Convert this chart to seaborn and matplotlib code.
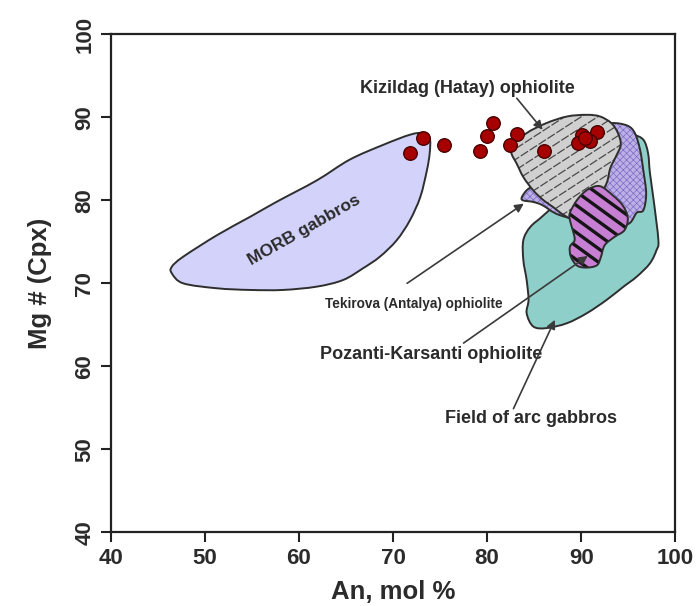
import numpy as np
import pandas as pd
import matplotlib
matplotlib.use("Agg")
import matplotlib.pyplot as plt
from matplotlib.patches import PathPatch
from matplotlib.path import Path
import seaborn as sns

# ---------------- data ----------------
# sample points: An (mol %) vs Mg# (Cpx)
pts_an = [73.2, 71.8, 75.4, 80.6, 80.0, 79.2, 83.2, 82.4, 86.0,
          90.1, 91.7, 90.9, 89.7, 90.4]
pts_mg = [87.5, 85.7, 86.7, 89.3, 87.7, 86.0, 88.0, 86.7, 85.9,
          87.9, 88.2, 87.1, 86.9, 87.5]

# MORB gabbros field (outline vertices)
morb_x = [46.5, 47.7, 51.3, 54.8, 57.6, 61.9, 65.4, 69.0, 71.8, 73.2, 73.9,
          73.9, 73.6, 72.9, 71.8, 70.4, 68.6, 66.8, 64.7, 61.9, 58.3, 54.8,
          51.3, 47.7, 46.5]
morb_y = [72.0, 73.2, 75.8, 78.0, 79.8, 82.4, 84.9, 86.7, 87.9, 88.1, 87.5,
          85.7, 83.6, 80.4, 77.6, 75.2, 73.2, 71.8, 70.4, 69.6, 69.2, 69.2,
          69.4, 70.0, 71.2]

# Field of arc gabbros
arc_x = [95.5, 96.6, 97.1, 97.3, 97.7, 98.2, 98.0, 97.3, 95.9, 94.5, 92.7,
         90.6, 88.5, 86.3, 84.9, 84.2, 84.4, 84.2, 83.85, 83.85, 84.6, 86.0,
         88.8, 92.0, 94.1]
arc_y = [87.9, 87.3, 85.7, 83.3, 80.0, 75.2, 74.0, 72.4, 70.8, 69.6, 68.0,
         66.4, 65.2, 64.6, 64.8, 66.4, 68.0, 70.4, 72.8, 75.2, 76.8, 78.2,
         81.2, 86.1, 87.9]

# Tekirova (Antalya) ophiolite
tek_x = [83.7, 84.2, 84.9, 85.6, 87.75, 90.9, 92.5, 93.3, 94.9, 95.7, 96.25,
         96.6, 96.9, 96.6, 95.9, 95.2, 94.1, 92.0, 87.75, 85.9, 84.9, 83.8]
tek_y = [80.4, 81.2, 81.7, 81.6, 83.1, 86.1, 88.7, 89.3, 89.0, 88.1, 86.1,
         83.6, 80.8, 78.8, 78.5, 77.3, 76.9, 77.0, 78.2, 79.4, 79.8, 80.0]

# Kizildag (Hatay) ophiolite
kiz_x = [82.6, 84.2, 86.3, 88.5, 90.6, 92.0, 93.2, 93.9, 94.2, 93.7, 93.1,
         92.8, 92.5, 92.0, 89.9, 89.3, 88.8, 87.9, 87.0, 86.0, 84.9, 83.85,
         83.15, 82.6]
kiz_y = [86.5, 88.1, 89.3, 90.1, 90.3, 90.1, 89.3, 88.1, 86.7, 85.3, 83.9,
         82.4, 81.6, 80.6, 78.2, 77.4, 77.8, 78.4, 79.2, 80.0, 81.2, 82.8,
         84.4, 85.6]

# Pozanti-Karsanti ophiolite
poz_x = [88.8, 89.6, 90.7, 92.0, 93.35, 94.4, 94.95, 94.6, 93.55, 92.5, 92.1,
         91.7, 90.7, 89.6, 88.9, 88.8, 89.3, 89.1, 88.8]
poz_y = [78.5, 80.1, 81.3, 81.7, 80.6, 79.4, 77.9, 76.4, 75.6, 74.6, 73.2,
         72.2, 71.9, 72.1, 73.2, 74.4, 75.2, 76.4, 77.6]

x_ticks = [40, 50, 60, 70, 80, 90, 100]
y_ticks = [40, 50, 60, 70, 80, 90, 100]

# ---------------- style ----------------
sns.set_theme(style="ticks")
plt.rcParams["font.family"] = ["Liberation Sans", "DejaVu Sans"]
plt.rcParams["hatch.linewidth"] = 0.5

TXT = "#2b2b2b"
EDGE = "#2e2e2e"

fig = plt.figure(figsize=(6.97, 6.06), dpi=100)
ax = fig.add_axes([0.1588, 0.1216, 0.8101, 0.8218])
ax.set_xlim(40, 100)
ax.set_ylim(40, 100)


def smooth_path(xs, ys):
    """Closed Catmull-Rom outline through the vertices, as cubic Beziers."""
    P = np.column_stack([xs, ys])
    n = len(P)
    verts = [P[0]]
    codes = [Path.MOVETO]
    for i in range(n):
        p0, p1, p2, p3 = P[i - 1], P[i], P[(i + 1) % n], P[(i + 2) % n]
        c1 = p1 + (p2 - p0) / 6.0
        c2 = p2 - (p3 - p1) / 6.0
        verts += [c1, c2, p2]
        codes += [Path.CURVE4] * 3
    verts.append(P[0])
    codes.append(Path.CLOSEPOLY)
    return Path(np.array(verts), codes)


def add_poly(xs, ys, face, z, hatch=None, hatch_color=None):
    path = smooth_path(xs, ys)
    base = PathPatch(path, facecolor=face,
                     edgecolor=hatch_color if hatch else face,
                     linewidth=0, hatch=hatch, zorder=z)
    ax.add_patch(base)
    outline = PathPatch(path, fill=False, edgecolor=EDGE,
                        linewidth=1.4, joinstyle="round", zorder=z + 0.5)
    ax.add_patch(outline)
    return base


def stripes(patch, xs, ys, angle, spacing, z, **kw):
    T = ax.transData
    P = T.transform(np.column_stack([xs, ys]))
    c = P.mean(axis=0)
    R = np.hypot(*(P.max(0) - P.min(0)))
    a = np.deg2rad(angle)
    d = np.array([np.cos(a), np.sin(a)])
    nrm = np.array([-np.sin(a), np.cos(a)])
    inv = T.inverted()
    for k in np.arange(-R, R, spacing):
        p0 = c + nrm * k - d * R
        p1 = c + nrm * k + d * R
        q = inv.transform(np.vstack([p0, p1]))
        ln, = ax.plot(q[:, 0], q[:, 1], zorder=z, **kw)
        ln.set_clip_path(patch)


# fields
add_poly(morb_x, morb_y, "#d2d2fb", 1)
add_poly(arc_x, arc_y, "#8fcfca", 1)
add_poly(tek_x, tek_y, "#bcb0e6", 2, hatch="xxxxx", hatch_color="#7e6cc4")
kz = add_poly(kiz_x, kiz_y, "#d0d0d0", 3)
stripes(kz, kiz_x, kiz_y, 33, 9, 3.2, color="#4a4a4a", lw=0.9,
        ls=(0, (7, 1.5)))
pz = add_poly(poz_x, poz_y, "#c77fd3", 4)
stripes(pz, poz_x, poz_y, -36, 11, 4.2, color="#151515", lw=2.4)

# sample points
df = pd.DataFrame({"An": pts_an, "Mg": pts_mg})
sns.scatterplot(data=df, x="An", y="Mg", ax=ax, s=95, color="#a60000",
                edgecolor="#4a0000", linewidth=1.0, zorder=8, legend=False)

# annotations
arrow_kw = dict(arrowstyle="-|>", color="#3a3a3a", lw=1.2,
                mutation_scale=13, shrinkA=0, shrinkB=0)


def arrow(x0, y0, x1, y1):
    ax.annotate("", xy=(x1, y1), xytext=(x0, y0), arrowprops=arrow_kw,
                zorder=7)


ax.text(77.9, 93.5, "Kizildag (Hatay) ophiolite", fontsize=13,
        fontweight="bold", color=TXT, ha="center", va="center")
arrow(83.15, 92.3, 85.9, 88.5)

ax.text(60.6, 76.4, "MORB gabbros", fontsize=12.5, fontweight="bold",
        color=TXT, ha="center", va="center", rotation=29.7, zorder=6)

ax.text(72.25, 67.5, "Tekirova (Antalya) ophiolite", fontsize=9.8,
        fontweight="bold", color=TXT, ha="center", va="center")
arrow(71.5, 70.0, 83.9, 79.6)

ax.text(74.1, 61.4, "Pozanti-Karsanti ophiolite", fontsize=13,
        fontweight="bold", color=TXT, ha="center", va="center")
arrow(77.5, 62.8, 90.7, 73.3)

ax.text(84.7, 53.7, "Field of arc gabbros", fontsize=13,
        fontweight="bold", color=TXT, ha="center", va="center")
arrow(82.8, 54.9, 87.2, 65.6)

# axes styling
ax.set_xticks(x_ticks)
ax.set_yticks(y_ticks)
ax.set_xticklabels([str(v) for v in x_ticks])
ax.set_yticklabels([str(v) for v in y_ticks], rotation=90, va="center")
for sp in ax.spines.values():
    sp.set_linewidth(1.6)
    sp.set_color("#222222")
    sp.set_visible(True)
ax.tick_params(axis="both", direction="out", length=7.5, width=1.5,
               color="#222222", labelsize=16, labelcolor=TXT, pad=3.5)
for t in ax.get_xticklabels() + ax.get_yticklabels():
    t.set_fontweight("bold")
ax.set_xlabel("An, mol %", fontsize=18.5, fontweight="bold", color=TXT,
              labelpad=8)
ax.set_ylabel("Mg # (Cpx)", fontsize=18.5, fontweight="bold", color=TXT,
              labelpad=16)
ax.grid(False)
ax.set_facecolor("white")
fig.patch.set_facecolor("white")

fig.savefig("out.png", dpi=100)
